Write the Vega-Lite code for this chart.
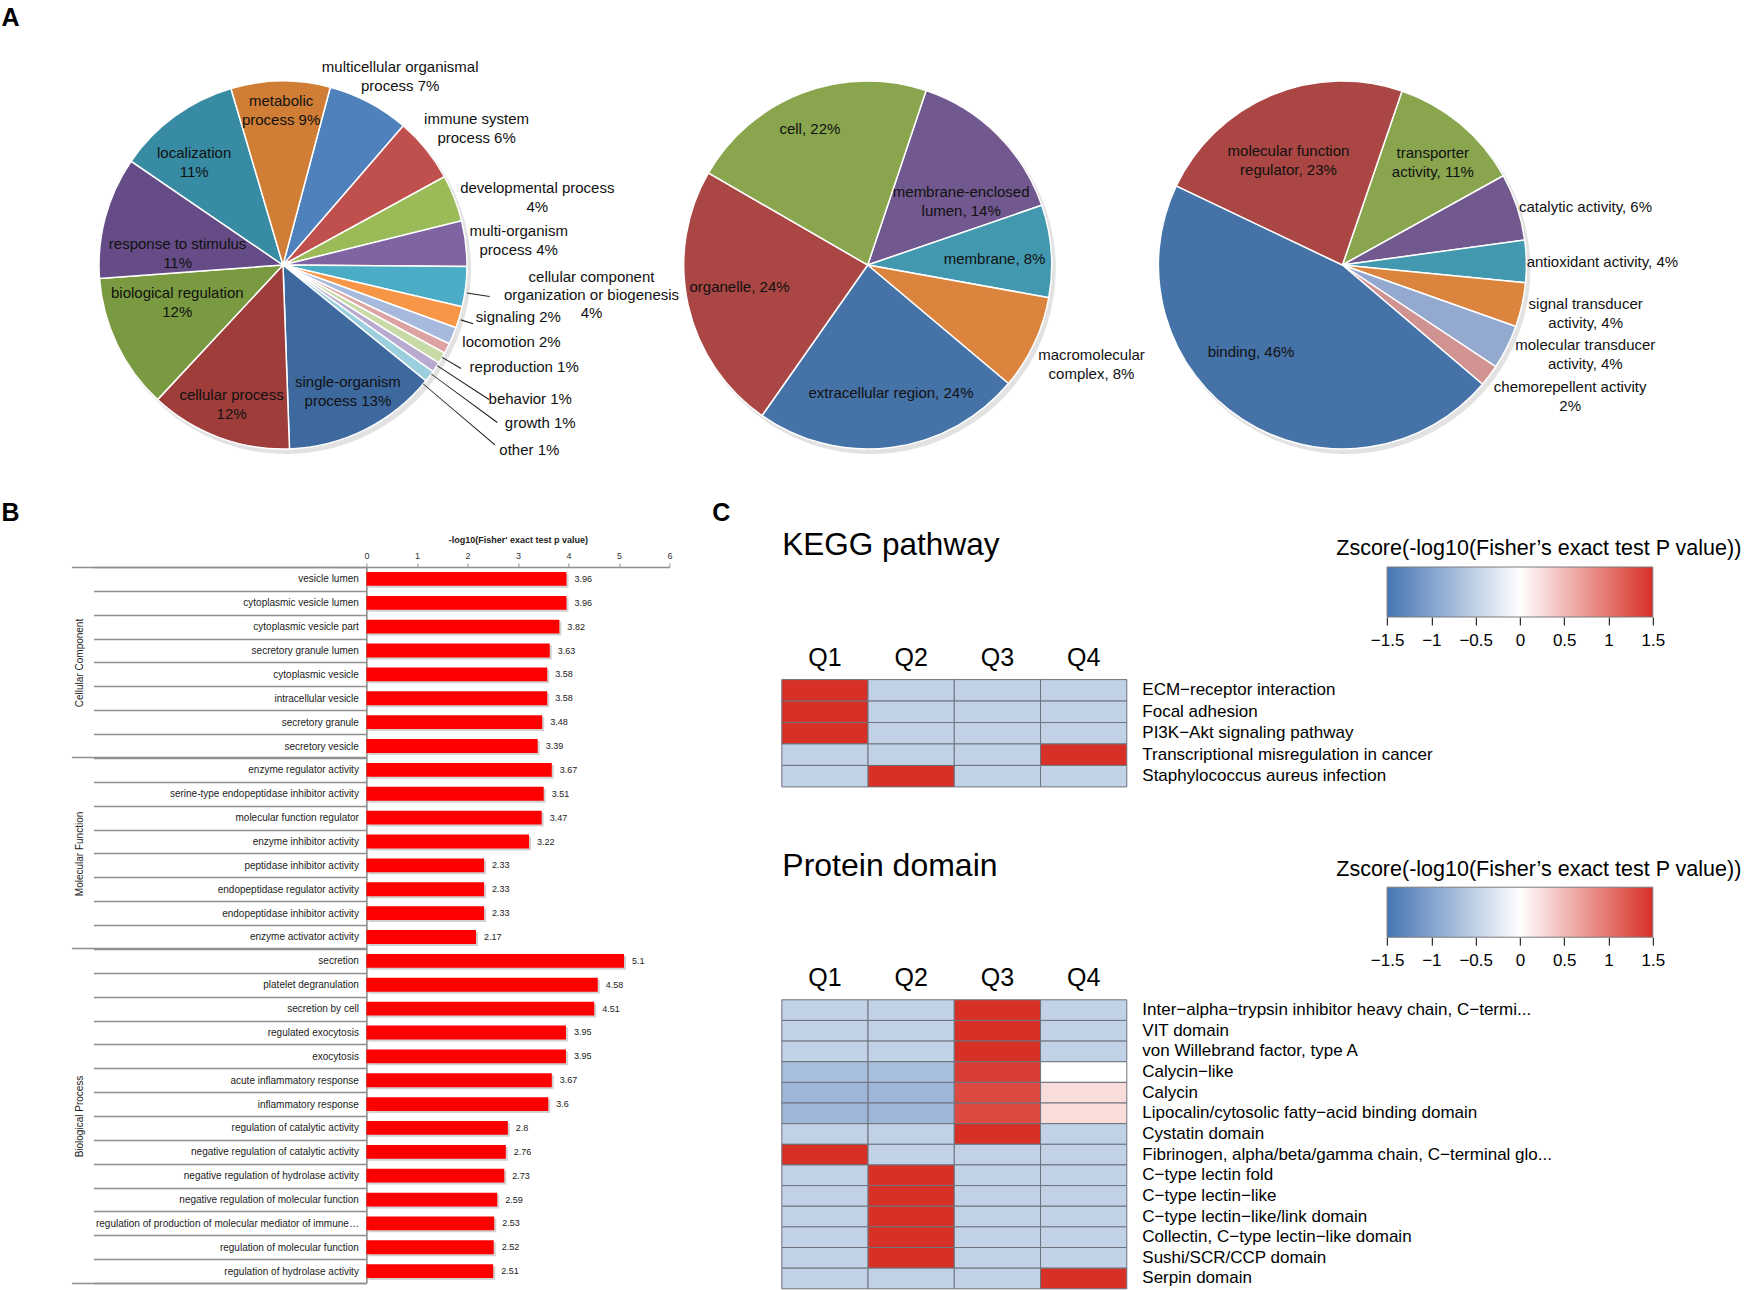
{
"$schema": "https://vega.github.io/schema/vega-lite/v6.json",
"padding": {"left": 1, "top": 5, "right": 0, "bottom": 0},
"background": "white",
"config": {"view": {"stroke": null}, "font": "Liberation Sans", "axis": {"grid": false}},
"datasets": {
"bp": [
{"ord":1,"name":"multicellular organismal process","value":7.2,"label":"multicellular organismal\nprocess 7%"},
{"ord":2,"name":"immune system process","value":5.7,"label":"immune system\nprocess 6%"},
{"ord":3,"name":"developmental process","value":4.1,"label":"developmental process\n4%"},
{"ord":4,"name":"multi-organism process","value":4.0,"label":"multi-organism\nprocess 4%"},
{"ord":5,"name":"cellular component organization or biogenesis","value":3.5,"label":"cellular component\norganization or biogenesis\n4%"},
{"ord":6,"name":"signaling","value":1.9,"label":"signaling 2%"},
{"ord":7,"name":"locomotion","value":1.5,"label":"locomotion 2%"},
{"ord":8,"name":"reproduction","value":0.9,"label":"reproduction 1%"},
{"ord":9,"name":"behavior","value":1.0,"label":"behavior 1%"},
{"ord":10,"name":"growth","value":0.9,"label":"growth 1%"},
{"ord":11,"name":"other","value":1.0,"label":"other 1%"},
{"ord":12,"name":"single-organism process","value":13.6,"label":"single-organism\nprocess 13%"},
{"ord":13,"name":"cellular process","value":12.5,"label":"cellular process\n12%"},
{"ord":14,"name":"biological regulation","value":11.9,"label":"biological regulation\n12%"},
{"ord":15,"name":"response to stimulus","value":10.7,"label":"response to stimulus\n11%"},
{"ord":16,"name":"localization","value":10.9,"label":"localization\n11%"},
{"ord":17,"name":"metabolic process","value":8.7,"label":"metabolic\nprocess 9%"}
],
"cc": [
{"ord":1,"name":"membrane-enclosed lumen","value":14.6,"label":"membrane-enclosed\nlumen, 14%"},
{"ord":2,"name":"membrane","value":8.1,"label":"membrane, 8%"},
{"ord":3,"name":"macromolecular complex","value":8.3,"label":"macromolecular\ncomplex, 8%"},
{"ord":4,"name":"extracellular region","value":23.6,"label":"extracellular region, 24%"},
{"ord":5,"name":"organelle","value":23.6,"label":"organelle, 24%"},
{"ord":6,"name":"cell","value":21.8,"label":"cell, 22%"}
],
"mf": [
{"ord":1,"name":"transporter activity","value":11.7,"label":"transporter\nactivity, 11%"},
{"ord":2,"name":"catalytic activity","value":5.9,"label":"catalytic activity, 6%"},
{"ord":3,"name":"antioxidant activity","value":3.7,"label":"antioxidant activity, 4%"},
{"ord":4,"name":"signal transducer activity","value":3.9,"label":"signal transducer\nactivity, 4%"},
{"ord":5,"name":"molecular transducer activity","value":3.9,"label":"molecular transducer\nactivity, 4%"},
{"ord":6,"name":"chemorepellent activity","value":1.9,"label":"chemorepellent activity\n2%"},
{"ord":7,"name":"binding","value":45.9,"label":"binding, 46%"},
{"ord":8,"name":"molecular function regulator","value":23.2,"label":"molecular function\nregulator, 23%"}
],
"bars": [
{"group":"CC","term":"vesicle lumen","value":3.96},
{"group":"CC","term":"cytoplasmic vesicle lumen","value":3.96},
{"group":"CC","term":"cytoplasmic vesicle part","value":3.82},
{"group":"CC","term":"secretory granule lumen","value":3.63},
{"group":"CC","term":"cytoplasmic vesicle","value":3.58},
{"group":"CC","term":"intracellular vesicle","value":3.58},
{"group":"CC","term":"secretory granule","value":3.48},
{"group":"CC","term":"secretory vesicle","value":3.39},
{"group":"MF","term":"enzyme regulator activity","value":3.67},
{"group":"MF","term":"serine-type endopeptidase inhibitor activity","value":3.51},
{"group":"MF","term":"molecular function regulator","value":3.47},
{"group":"MF","term":"enzyme inhibitor activity","value":3.22},
{"group":"MF","term":"peptidase inhibitor activity","value":2.33},
{"group":"MF","term":"endopeptidase regulator activity","value":2.33},
{"group":"MF","term":"endopeptidase inhibitor activity","value":2.33},
{"group":"MF","term":"enzyme activator activity","value":2.17},
{"group":"BP","term":"secretion","value":5.1},
{"group":"BP","term":"platelet degranulation","value":4.58},
{"group":"BP","term":"secretion by cell","value":4.51},
{"group":"BP","term":"regulated exocytosis","value":3.95},
{"group":"BP","term":"exocytosis","value":3.95},
{"group":"BP","term":"acute inflammatory response","value":3.67},
{"group":"BP","term":"inflammatory response","value":3.6},
{"group":"BP","term":"regulation of catalytic activity","value":2.8},
{"group":"BP","term":"negative regulation of catalytic activity","value":2.76},
{"group":"BP","term":"negative regulation of hydrolase activity","value":2.73},
{"group":"BP","term":"negative regulation of molecular function","value":2.59},
{"group":"BP","term":"regulation of production of molecular mediator of immune…","value":2.53},
{"group":"BP","term":"regulation of molecular function","value":2.52},
{"group":"BP","term":"regulation of hydrolase activity","value":2.51}
],
"kegg": [
{"term":"ECM−receptor interaction","q":"Q1","z":1.5},{"term":"ECM−receptor interaction","q":"Q2","z":-0.5},{"term":"ECM−receptor interaction","q":"Q3","z":-0.5},{"term":"ECM−receptor interaction","q":"Q4","z":-0.5},
{"term":"Focal adhesion","q":"Q1","z":1.5},{"term":"Focal adhesion","q":"Q2","z":-0.5},{"term":"Focal adhesion","q":"Q3","z":-0.5},{"term":"Focal adhesion","q":"Q4","z":-0.5},
{"term":"PI3K−Akt signaling pathway","q":"Q1","z":1.5},{"term":"PI3K−Akt signaling pathway","q":"Q2","z":-0.5},{"term":"PI3K−Akt signaling pathway","q":"Q3","z":-0.5},{"term":"PI3K−Akt signaling pathway","q":"Q4","z":-0.5},
{"term":"Transcriptional misregulation in cancer","q":"Q1","z":-0.5},{"term":"Transcriptional misregulation in cancer","q":"Q2","z":-0.5},{"term":"Transcriptional misregulation in cancer","q":"Q3","z":-0.5},{"term":"Transcriptional misregulation in cancer","q":"Q4","z":1.5},
{"term":"Staphylococcus aureus infection","q":"Q1","z":-0.5},{"term":"Staphylococcus aureus infection","q":"Q2","z":1.5},{"term":"Staphylococcus aureus infection","q":"Q3","z":-0.5},{"term":"Staphylococcus aureus infection","q":"Q4","z":-0.5}
],
"domain": [
{"term":"Inter−alpha−trypsin inhibitor heavy chain, C−termi...","q":"Q1","z":-0.5},{"term":"Inter−alpha−trypsin inhibitor heavy chain, C−termi...","q":"Q2","z":-0.5},{"term":"Inter−alpha−trypsin inhibitor heavy chain, C−termi...","q":"Q3","z":1.5},{"term":"Inter−alpha−trypsin inhibitor heavy chain, C−termi...","q":"Q4","z":-0.5},
{"term":"VIT domain","q":"Q1","z":-0.5},{"term":"VIT domain","q":"Q2","z":-0.5},{"term":"VIT domain","q":"Q3","z":1.5},{"term":"VIT domain","q":"Q4","z":-0.5},
{"term":"von Willebrand factor, type A","q":"Q1","z":-0.5},{"term":"von Willebrand factor, type A","q":"Q2","z":-0.5},{"term":"von Willebrand factor, type A","q":"Q3","z":1.5},{"term":"von Willebrand factor, type A","q":"Q4","z":-0.5},
{"term":"Calycin−like","q":"Q1","z":-0.71},{"term":"Calycin−like","q":"Q2","z":-0.71},{"term":"Calycin−like","q":"Q3","z":1.41},{"term":"Calycin−like","q":"Q4","z":0.0},
{"term":"Calycin","q":"Q1","z":-0.78},{"term":"Calycin","q":"Q2","z":-0.78},{"term":"Calycin","q":"Q3","z":1.31},{"term":"Calycin","q":"Q4","z":0.25},
{"term":"Lipocalin/cytosolic fatty−acid binding domain","q":"Q1","z":-0.78},{"term":"Lipocalin/cytosolic fatty−acid binding domain","q":"Q2","z":-0.78},{"term":"Lipocalin/cytosolic fatty−acid binding domain","q":"Q3","z":1.31},{"term":"Lipocalin/cytosolic fatty−acid binding domain","q":"Q4","z":0.25},
{"term":"Cystatin domain","q":"Q1","z":-0.5},{"term":"Cystatin domain","q":"Q2","z":-0.5},{"term":"Cystatin domain","q":"Q3","z":1.5},{"term":"Cystatin domain","q":"Q4","z":-0.5},
{"term":"Fibrinogen, alpha/beta/gamma chain, C−terminal glo...","q":"Q1","z":1.5},{"term":"Fibrinogen, alpha/beta/gamma chain, C−terminal glo...","q":"Q2","z":-0.5},{"term":"Fibrinogen, alpha/beta/gamma chain, C−terminal glo...","q":"Q3","z":-0.5},{"term":"Fibrinogen, alpha/beta/gamma chain, C−terminal glo...","q":"Q4","z":-0.5},
{"term":"C−type lectin fold","q":"Q1","z":-0.5},{"term":"C−type lectin fold","q":"Q2","z":1.5},{"term":"C−type lectin fold","q":"Q3","z":-0.5},{"term":"C−type lectin fold","q":"Q4","z":-0.5},
{"term":"C−type lectin−like","q":"Q1","z":-0.5},{"term":"C−type lectin−like","q":"Q2","z":1.5},{"term":"C−type lectin−like","q":"Q3","z":-0.5},{"term":"C−type lectin−like","q":"Q4","z":-0.5},
{"term":"C−type lectin−like/link domain","q":"Q1","z":-0.5},{"term":"C−type lectin−like/link domain","q":"Q2","z":1.5},{"term":"C−type lectin−like/link domain","q":"Q3","z":-0.5},{"term":"C−type lectin−like/link domain","q":"Q4","z":-0.5},
{"term":"Collectin, C−type lectin−like domain","q":"Q1","z":-0.5},{"term":"Collectin, C−type lectin−like domain","q":"Q2","z":1.5},{"term":"Collectin, C−type lectin−like domain","q":"Q3","z":-0.5},{"term":"Collectin, C−type lectin−like domain","q":"Q4","z":-0.5},
{"term":"Sushi/SCR/CCP domain","q":"Q1","z":-0.5},{"term":"Sushi/SCR/CCP domain","q":"Q2","z":1.5},{"term":"Sushi/SCR/CCP domain","q":"Q3","z":-0.5},{"term":"Sushi/SCR/CCP domain","q":"Q4","z":-0.5},
{"term":"Serpin domain","q":"Q1","z":-0.5},{"term":"Serpin domain","q":"Q2","z":-0.5},{"term":"Serpin domain","q":"Q3","z":-0.5},{"term":"Serpin domain","q":"Q4","z":1.5}
]
},
"bounds": "full",
"spacing": 0,
"vconcat": [
{"hconcat": [
 {"data": {"name": "bp"}, "width": 564, "height": 460,
  "layer": [
   {"mark": {"type": "text"}, "encoding": {"y": {"datum": 0, "type": "quantitative", "scale": {"domain": [0, 1]}, "axis": {"orient": "left", "labels": false, "ticks": false, "domain": false, "grid": false, "minExtent": 0, "title": "A", "titleX": 0, "titleY": -10, "titleAngle": 0, "titleAlign": "left", "titleBaseline": "alphabetic", "titleFontSize": 25, "titleFontWeight": "bold", "titleColor": "#000000"}}, "text": {"value": ""}}},
   {"mark": {"type": "arc", "outerRadius": 185, "color": "#e2e2e2", "xOffset": 3, "yOffset": 4}, "encoding": {"theta": {"field": "value", "type": "quantitative", "stack": true, "scale": {"domain": [0, 100], "range": [0.26, 6.5432]}}, "order": {"field": "ord", "type": "quantitative"}}},
   {"mark": {"type": "arc", "outerRadius": 184, "stroke": "#ffffff", "strokeWidth": 1.5},
    "encoding": {"theta": {"field": "value", "type": "quantitative", "stack": true, "scale": {"domain": [0, 100], "range": [0.26, 6.5432]}}, "order": {"field": "ord", "type": "quantitative"},
     "color": {"field": "name", "type": "nominal", "legend": null, "scale": {"domain": ["multicellular organismal process","immune system process","developmental process","multi-organism process","cellular component organization or biogenesis","signaling","locomotion","reproduction","behavior","growth","other","single-organism process","cellular process","biological regulation","response to stimulus","localization","metabolic process"], "range": ["#4f81bd","#c0504d","#9bbb59","#8064a2","#4bacc6","#f79646","#a7b9dc","#dca3a2","#c8daa6","#b8abcf","#9ccfde","#3d699f","#9e3d3a","#7a9a41","#654c86","#378ba3","#d07d35"]}}}},
   {"transform": [{"stack": "value", "groupby": [], "sort": [{"field": "ord", "order": "ascending"}], "as": ["v0", "v1"]}, {"filter": "datum.name === 'cellular component organization or biogenesis'"}], "mark": {"type": "arc", "innerRadius": 186, "outerRadius": 209, "thetaOffset": 0.1396, "theta2Offset": 0.1456, "color": "#222222"}, "encoding": {"theta": {"field": "v0", "type": "quantitative", "stack": null, "scale": {"domain": [0, 100], "range": [0.26, 6.5432]}}, "theta2": {"field": "v0"}}},
   {"transform": [{"stack": "value", "groupby": [], "sort": [{"field": "ord", "order": "ascending"}], "as": ["v0", "v1"]}, {"filter": "datum.name === 'signaling'"}], "mark": {"type": "arc", "innerRadius": 186, "outerRadius": 199, "thetaOffset": 0.068, "theta2Offset": 0.074, "color": "#222222"}, "encoding": {"theta": {"field": "v0", "type": "quantitative", "stack": null, "scale": {"domain": [0, 100], "range": [0.26, 6.5432]}}, "theta2": {"field": "v0"}}},
   {"transform": [{"stack": "value", "groupby": [], "sort": [{"field": "ord", "order": "ascending"}], "as": ["v0", "v1"]}, {"filter": "datum.name === 'reproduction'"}], "mark": {"type": "arc", "innerRadius": 184, "outerRadius": 206, "thetaOffset": 0.0813, "theta2Offset": 0.0868, "color": "#222222"}, "encoding": {"theta": {"field": "v0", "type": "quantitative", "stack": null, "scale": {"domain": [0, 100], "range": [0.26, 6.5432]}}, "theta2": {"field": "v0"}}},
   {"transform": [{"stack": "value", "groupby": [], "sort": [{"field": "ord", "order": "ascending"}], "as": ["v0", "v1"]}, {"filter": "datum.name === 'behavior'"}], "mark": {"type": "arc", "innerRadius": 184, "outerRadius": 246, "thetaOffset": 0.0771, "theta2Offset": 0.0821, "color": "#222222"}, "encoding": {"theta": {"field": "v0", "type": "quantitative", "stack": null, "scale": {"domain": [0, 100], "range": [0.26, 6.5432]}}, "theta2": {"field": "v0"}}},
   {"transform": [{"stack": "value", "groupby": [], "sort": [{"field": "ord", "order": "ascending"}], "as": ["v0", "v1"]}, {"filter": "datum.name === 'growth'"}], "mark": {"type": "arc", "innerRadius": 184, "outerRadius": 266, "thetaOffset": 0.0702, "theta2Offset": 0.0747, "color": "#222222"}, "encoding": {"theta": {"field": "v0", "type": "quantitative", "stack": null, "scale": {"domain": [0, 100], "range": [0.26, 6.5432]}}, "theta2": {"field": "v0"}}},
   {"transform": [{"stack": "value", "groupby": [], "sort": [{"field": "ord", "order": "ascending"}], "as": ["v0", "v1"]}, {"filter": "datum.name === 'other'"}], "mark": {"type": "arc", "innerRadius": 184, "outerRadius": 278, "thetaOffset": 0.0834, "theta2Offset": 0.0878, "color": "#222222"}, "encoding": {"theta": {"field": "v0", "type": "quantitative", "stack": null, "scale": {"domain": [0, 100], "range": [0.26, 6.5432]}}, "theta2": {"field": "v0"}}},
   {"transform": [{"stack": "value", "groupby": [], "sort": [{"field": "ord", "order": "ascending"}], "as": ["v0", "v1"]}, {"filter": "datum.name === 'multicellular organismal process'"}], "mark": {"type": "text", "radius": 222, "thetaOffset": 0.296, "dy": -9.5, "fontSize": 15, "lineBreak": "\n", "lineHeight": 19, "align": "center", "baseline": "middle", "color": "#111111"}, "encoding": {"theta": {"field": "v0", "type": "quantitative", "scale": {"domain": [0, 100], "range": [0.26, 6.5432]}}, "text": {"field": "label"}}},
   {"transform": [{"stack": "value", "groupby": [], "sort": [{"field": "ord", "order": "ascending"}], "as": ["v0", "v1"]}, {"filter": "datum.name === 'immune system process'"}], "mark": {"type": "text", "radius": 237, "thetaOffset": 0.2436, "dy": -9.5, "fontSize": 15, "lineBreak": "\n", "lineHeight": 19, "align": "center", "baseline": "middle", "color": "#111111"}, "encoding": {"theta": {"field": "v0", "type": "quantitative", "scale": {"domain": [0, 100], "range": [0.26, 6.5432]}}, "text": {"field": "label"}}},
   {"transform": [{"stack": "value", "groupby": [], "sort": [{"field": "ord", "order": "ascending"}], "as": ["v0", "v1"]}, {"filter": "datum.name === 'developmental process'"}], "mark": {"type": "text", "radius": 263, "thetaOffset": 0.2423, "dy": -9.5, "fontSize": 15, "lineBreak": "\n", "lineHeight": 19, "align": "center", "baseline": "middle", "color": "#111111"}, "encoding": {"theta": {"field": "v0", "type": "quantitative", "scale": {"domain": [0, 100], "range": [0.26, 6.5432]}}, "text": {"field": "label"}}},
   {"transform": [{"stack": "value", "groupby": [], "sort": [{"field": "ord", "order": "ascending"}], "as": ["v0", "v1"]}, {"filter": "datum.name === 'multi-organism process'"}], "mark": {"type": "text", "radius": 237, "thetaOffset": 0.1379, "dy": -9.5, "fontSize": 15, "lineBreak": "\n", "lineHeight": 19, "align": "center", "baseline": "middle", "color": "#111111"}, "encoding": {"theta": {"field": "v0", "type": "quantitative", "scale": {"domain": [0, 100], "range": [0.26, 6.5432]}}, "text": {"field": "label"}}},
   {"transform": [{"stack": "value", "groupby": [], "sort": [{"field": "ord", "order": "ascending"}], "as": ["v0", "v1"]}, {"filter": "datum.name === 'cellular component organization or biogenesis'"}], "mark": {"type": "text", "radius": 310, "thetaOffset": 0.089, "dy": -18, "fontSize": 15, "lineBreak": "\n", "lineHeight": 18, "align": "center", "baseline": "middle", "color": "#111111"}, "encoding": {"theta": {"field": "v0", "type": "quantitative", "scale": {"domain": [0, 100], "range": [0.26, 6.5432]}}, "text": {"field": "label"}}},
   {"transform": [{"stack": "value", "groupby": [], "sort": [{"field": "ord", "order": "ascending"}], "as": ["v0", "v1"]}, {"filter": "datum.name === 'signaling'"}], "mark": {"type": "text", "radius": 241, "thetaOffset": -0.0119, "fontSize": 15, "lineBreak": "\n", "lineHeight": 19, "align": "center", "baseline": "middle", "color": "#111111"}, "encoding": {"theta": {"field": "v0", "type": "quantitative", "scale": {"domain": [0, 100], "range": [0.26, 6.5432]}}, "text": {"field": "label"}}},
   {"transform": [{"stack": "value", "groupby": [], "sort": [{"field": "ord", "order": "ascending"}], "as": ["v0", "v1"]}, {"filter": "datum.name === 'locomotion'"}], "mark": {"type": "text", "radius": 241, "thetaOffset": -0.0244, "fontSize": 15, "lineBreak": "\n", "lineHeight": 19, "align": "center", "baseline": "middle", "color": "#111111"}, "encoding": {"theta": {"field": "v0", "type": "quantitative", "scale": {"domain": [0, 100], "range": [0.26, 6.5432]}}, "text": {"field": "label"}}},
   {"transform": [{"stack": "value", "groupby": [], "sort": [{"field": "ord", "order": "ascending"}], "as": ["v0", "v1"]}, {"filter": "datum.name === 'reproduction'"}], "mark": {"type": "text", "radius": 262, "thetaOffset": -0.0408, "fontSize": 15, "lineBreak": "\n", "lineHeight": 19, "align": "center", "baseline": "middle", "color": "#111111"}, "encoding": {"theta": {"field": "v0", "type": "quantitative", "scale": {"domain": [0, 100], "range": [0.26, 6.5432]}}, "text": {"field": "label"}}},
   {"transform": [{"stack": "value", "groupby": [], "sort": [{"field": "ord", "order": "ascending"}], "as": ["v0", "v1"]}, {"filter": "datum.name === 'behavior'"}], "mark": {"type": "text", "radius": 281, "thetaOffset": -0.0035, "fontSize": 15, "lineBreak": "\n", "lineHeight": 19, "align": "center", "baseline": "middle", "color": "#111111"}, "encoding": {"theta": {"field": "v0", "type": "quantitative", "scale": {"domain": [0, 100], "range": [0.26, 6.5432]}}, "text": {"field": "label"}}},
   {"transform": [{"stack": "value", "groupby": [], "sort": [{"field": "ord", "order": "ascending"}], "as": ["v0", "v1"]}, {"filter": "datum.name === 'growth'"}], "mark": {"type": "text", "radius": 302, "thetaOffset": -0.0101, "fontSize": 15, "lineBreak": "\n", "lineHeight": 19, "align": "center", "baseline": "middle", "color": "#111111"}, "encoding": {"theta": {"field": "v0", "type": "quantitative", "scale": {"domain": [0, 100], "range": [0.26, 6.5432]}}, "text": {"field": "label"}}},
   {"transform": [{"stack": "value", "groupby": [], "sort": [{"field": "ord", "order": "ascending"}], "as": ["v0", "v1"]}, {"filter": "datum.name === 'other'"}], "mark": {"type": "text", "radius": 308, "thetaOffset": 0.0258, "fontSize": 15, "lineBreak": "\n", "lineHeight": 19, "align": "center", "baseline": "middle", "color": "#111111"}, "encoding": {"theta": {"field": "v0", "type": "quantitative", "scale": {"domain": [0, 100], "range": [0.26, 6.5432]}}, "text": {"field": "label"}}},
   {"transform": [{"stack": "value", "groupby": [], "sort": [{"field": "ord", "order": "ascending"}], "as": ["v0", "v1"]}, {"filter": "datum.name === 'single-organism process'"}], "mark": {"type": "text", "radius": 142, "thetaOffset": 0.415, "dy": -9.5, "fontSize": 15, "lineBreak": "\n", "lineHeight": 19, "align": "center", "baseline": "middle", "color": "#111111"}, "encoding": {"theta": {"field": "v0", "type": "quantitative", "scale": {"domain": [0, 100], "range": [0.26, 6.5432]}}, "text": {"field": "label"}}},
   {"transform": [{"stack": "value", "groupby": [], "sort": [{"field": "ord", "order": "ascending"}], "as": ["v0", "v1"]}, {"filter": "datum.name === 'cellular process'"}], "mark": {"type": "text", "radius": 149, "thetaOffset": 0.3878, "dy": -9.5, "fontSize": 15, "lineBreak": "\n", "lineHeight": 19, "align": "center", "baseline": "middle", "color": "#111111"}, "encoding": {"theta": {"field": "v0", "type": "quantitative", "scale": {"domain": [0, 100], "range": [0.26, 6.5432]}}, "text": {"field": "label"}}},
   {"transform": [{"stack": "value", "groupby": [], "sort": [{"field": "ord", "order": "ascending"}], "as": ["v0", "v1"]}, {"filter": "datum.name === 'biological regulation'"}], "mark": {"type": "text", "radius": 112, "thetaOffset": 0.4838, "dy": -9.5, "fontSize": 15, "lineBreak": "\n", "lineHeight": 19, "align": "center", "baseline": "middle", "color": "#111111"}, "encoding": {"theta": {"field": "v0", "type": "quantitative", "scale": {"domain": [0, 100], "range": [0.26, 6.5432]}}, "text": {"field": "label"}}},
   {"transform": [{"stack": "value", "groupby": [], "sort": [{"field": "ord", "order": "ascending"}], "as": ["v0", "v1"]}, {"filter": "datum.name === 'response to stimulus'"}], "mark": {"type": "text", "radius": 106, "thetaOffset": 0.1777, "dy": -9.5, "fontSize": 15, "lineBreak": "\n", "lineHeight": 19, "align": "center", "baseline": "middle", "color": "#111111"}, "encoding": {"theta": {"field": "v0", "type": "quantitative", "scale": {"domain": [0, 100], "range": [0.26, 6.5432]}}, "text": {"field": "label"}}},
   {"transform": [{"stack": "value", "groupby": [], "sort": [{"field": "ord", "order": "ascending"}], "as": ["v0", "v1"]}, {"filter": "datum.name === 'localization'"}], "mark": {"type": "text", "radius": 136, "thetaOffset": 0.2594, "dy": -9.5, "fontSize": 15, "lineBreak": "\n", "lineHeight": 19, "align": "center", "baseline": "middle", "color": "#111111"}, "encoding": {"theta": {"field": "v0", "type": "quantitative", "scale": {"domain": [0, 100], "range": [0.26, 6.5432]}}, "text": {"field": "label"}}},
   {"transform": [{"stack": "value", "groupby": [], "sort": [{"field": "ord", "order": "ascending"}], "as": ["v0", "v1"]}, {"filter": "datum.name === 'metabolic process'"}], "mark": {"type": "text", "radius": 155, "thetaOffset": 0.2744, "dy": -9.5, "fontSize": 15, "lineBreak": "\n", "lineHeight": 19, "align": "center", "baseline": "middle", "color": "#111111"}, "encoding": {"theta": {"field": "v0", "type": "quantitative", "scale": {"domain": [0, 100], "range": [0.26, 6.5432]}}, "text": {"field": "label"}}}
  ]},
 {"data": {"name": "cc"}, "width": 605.4, "height": 460,
  "layer": [
   {"mark": {"type": "arc", "outerRadius": 185, "color": "#e2e2e2", "xOffset": 3, "yOffset": 4}, "encoding": {"theta": {"field": "value", "type": "quantitative", "stack": true, "scale": {"domain": [0, 100], "range": [0.323, 6.6062]}}, "order": {"field": "ord", "type": "quantitative"}}},
   {"mark": {"type": "arc", "outerRadius": 184, "stroke": "#ffffff", "strokeWidth": 1.5},
    "encoding": {"theta": {"field": "value", "type": "quantitative", "stack": true, "scale": {"domain": [0, 100], "range": [0.323, 6.6062]}}, "order": {"field": "ord", "type": "quantitative"},
     "color": {"field": "name", "type": "nominal", "legend": null, "scale": {"domain": ["membrane-enclosed lumen","membrane","macromolecular complex","extracellular region","organelle","cell"], "range": ["#71588f","#4198af","#db843d","#4572a7","#aa4643","#89a54e"]}}}},
   {"transform": [{"stack": "value", "groupby": [], "sort": [{"field": "ord", "order": "ascending"}], "as": ["v0", "v1"]}, {"filter": "datum.name === 'membrane-enclosed lumen'"}], "mark": {"type": "text", "radius": 113, "thetaOffset": 0.651, "dy": -9.5, "fontSize": 15, "lineBreak": "\n", "lineHeight": 19, "align": "center", "baseline": "middle", "color": "#111111"}, "encoding": {"theta": {"field": "v0", "type": "quantitative", "scale": {"domain": [0, 100], "range": [0.323, 6.6062]}}, "text": {"field": "label"}}},
   {"transform": [{"stack": "value", "groupby": [], "sort": [{"field": "ord", "order": "ascending"}], "as": ["v0", "v1"]}, {"filter": "datum.name === 'membrane'"}], "mark": {"type": "text", "radius": 127, "thetaOffset": 0.2852, "fontSize": 15, "lineBreak": "\n", "lineHeight": 19, "align": "center", "baseline": "middle", "color": "#111111"}, "encoding": {"theta": {"field": "v0", "type": "quantitative", "scale": {"domain": [0, 100], "range": [0.323, 6.6062]}}, "text": {"field": "label"}}},
   {"transform": [{"stack": "value", "groupby": [], "sort": [{"field": "ord", "order": "ascending"}], "as": ["v0", "v1"]}, {"filter": "datum.name === 'macromolecular complex'"}], "mark": {"type": "text", "radius": 245, "thetaOffset": 0.2405, "dy": -9.5, "fontSize": 15, "lineBreak": "\n", "lineHeight": 19, "align": "center", "baseline": "middle", "color": "#111111"}, "encoding": {"theta": {"field": "v0", "type": "quantitative", "scale": {"domain": [0, 100], "range": [0.323, 6.6062]}}, "text": {"field": "label"}}},
   {"transform": [{"stack": "value", "groupby": [], "sort": [{"field": "ord", "order": "ascending"}], "as": ["v0", "v1"]}, {"filter": "datum.name === 'extracellular region'"}], "mark": {"type": "text", "radius": 130, "thetaOffset": 0.6912, "fontSize": 15, "lineBreak": "\n", "lineHeight": 19, "align": "center", "baseline": "middle", "color": "#111111"}, "encoding": {"theta": {"field": "v0", "type": "quantitative", "scale": {"domain": [0, 100], "range": [0.323, 6.6062]}}, "text": {"field": "label"}}},
   {"transform": [{"stack": "value", "groupby": [], "sort": [{"field": "ord", "order": "ascending"}], "as": ["v0", "v1"]}, {"filter": "datum.name === 'organelle'"}], "mark": {"type": "text", "radius": 130, "thetaOffset": 0.7913, "fontSize": 15, "lineBreak": "\n", "lineHeight": 19, "align": "center", "baseline": "middle", "color": "#111111"}, "encoding": {"theta": {"field": "v0", "type": "quantitative", "scale": {"domain": [0, 100], "range": [0.323, 6.6062]}}, "text": {"field": "label"}}},
   {"transform": [{"stack": "value", "groupby": [], "sort": [{"field": "ord", "order": "ascending"}], "as": ["v0", "v1"]}, {"filter": "datum.name === 'cell'"}], "mark": {"type": "text", "radius": 148, "thetaOffset": 0.6454, "fontSize": 15, "lineBreak": "\n", "lineHeight": 19, "align": "center", "baseline": "middle", "color": "#111111"}, "encoding": {"theta": {"field": "v0", "type": "quantitative", "scale": {"domain": [0, 100], "range": [0.323, 6.6062]}}, "text": {"field": "label"}}}
  ]},
 {"data": {"name": "mf"}, "width": 342.8, "height": 460,
  "layer": [
   {"mark": {"type": "arc", "outerRadius": 185, "color": "#e2e2e2", "xOffset": 3, "yOffset": 4}, "encoding": {"theta": {"field": "value", "type": "quantitative", "stack": true, "scale": {"domain": [0, 100.1], "range": [0.33, 6.6132]}}, "order": {"field": "ord", "type": "quantitative"}}},
   {"mark": {"type": "arc", "outerRadius": 184, "stroke": "#ffffff", "strokeWidth": 1.5},
    "encoding": {"theta": {"field": "value", "type": "quantitative", "stack": true, "scale": {"domain": [0, 100.1], "range": [0.33, 6.6132]}}, "order": {"field": "ord", "type": "quantitative"},
     "color": {"field": "name", "type": "nominal", "legend": null, "scale": {"domain": ["transporter activity","catalytic activity","antioxidant activity","signal transducer activity","molecular transducer activity","chemorepellent activity","binding","molecular function regulator"], "range": ["#89a54e","#71588f","#4198af","#db843d","#93a9cf","#d19392","#4572a7","#aa4643"]}}}},
   {"transform": [{"stack": "value", "groupby": [], "sort": [{"field": "ord", "order": "ascending"}], "as": ["v0", "v1"]}, {"filter": "datum.name === 'transporter activity'"}], "mark": {"type": "text", "radius": 137, "thetaOffset": 0.391, "dy": -9.5, "fontSize": 15, "lineBreak": "\n", "lineHeight": 19, "align": "center", "baseline": "middle", "color": "#111111"}, "encoding": {"theta": {"field": "v0", "type": "quantitative", "scale": {"domain": [0, 100.1], "range": [0.33, 6.6132]}}, "text": {"field": "label"}}},
   {"transform": [{"stack": "value", "groupby": [], "sort": [{"field": "ord", "order": "ascending"}], "as": ["v0", "v1"]}, {"filter": "datum.name === 'catalytic activity'"}], "mark": {"type": "text", "radius": 250, "thetaOffset": 0.2709, "fontSize": 15, "lineBreak": "\n", "lineHeight": 19, "align": "center", "baseline": "middle", "color": "#111111"}, "encoding": {"theta": {"field": "v0", "type": "quantitative", "scale": {"domain": [0, 100.1], "range": [0.33, 6.6132]}}, "text": {"field": "label"}}},
   {"transform": [{"stack": "value", "groupby": [], "sort": [{"field": "ord", "order": "ascending"}], "as": ["v0", "v1"]}, {"filter": "datum.name === 'antioxidant activity'"}], "mark": {"type": "text", "radius": 260, "thetaOffset": 0.1239, "fontSize": 15, "lineBreak": "\n", "lineHeight": 19, "align": "center", "baseline": "middle", "color": "#111111"}, "encoding": {"theta": {"field": "v0", "type": "quantitative", "scale": {"domain": [0, 100.1], "range": [0.33, 6.6132]}}, "text": {"field": "label"}}},
   {"transform": [{"stack": "value", "groupby": [], "sort": [{"field": "ord", "order": "ascending"}], "as": ["v0", "v1"]}, {"filter": "datum.name === 'signal transducer activity'"}], "mark": {"type": "text", "radius": 248, "thetaOffset": 0.0995, "dy": -9.5, "fontSize": 15, "lineBreak": "\n", "lineHeight": 19, "align": "center", "baseline": "middle", "color": "#111111"}, "encoding": {"theta": {"field": "v0", "type": "quantitative", "scale": {"domain": [0, 100.1], "range": [0.33, 6.6132]}}, "text": {"field": "label"}}},
   {"transform": [{"stack": "value", "groupby": [], "sort": [{"field": "ord", "order": "ascending"}], "as": ["v0", "v1"]}, {"filter": "datum.name === 'molecular transducer activity'"}], "mark": {"type": "text", "radius": 259, "thetaOffset": 0.0134, "dy": -9.5, "fontSize": 15, "lineBreak": "\n", "lineHeight": 19, "align": "center", "baseline": "middle", "color": "#111111"}, "encoding": {"theta": {"field": "v0", "type": "quantitative", "scale": {"domain": [0, 100.1], "range": [0.33, 6.6132]}}, "text": {"field": "label"}}},
   {"transform": [{"stack": "value", "groupby": [], "sort": [{"field": "ord", "order": "ascending"}], "as": ["v0", "v1"]}, {"filter": "datum.name === 'chemorepellent activity'"}], "mark": {"type": "text", "radius": 263, "thetaOffset": -0.0621, "dy": -9.5, "fontSize": 15, "lineBreak": "\n", "lineHeight": 19, "align": "center", "baseline": "middle", "color": "#111111"}, "encoding": {"theta": {"field": "v0", "type": "quantitative", "scale": {"domain": [0, 100.1], "range": [0.33, 6.6132]}}, "text": {"field": "label"}}},
   {"transform": [{"stack": "value", "groupby": [], "sort": [{"field": "ord", "order": "ascending"}], "as": ["v0", "v1"]}, {"filter": "datum.name === 'binding'"}], "mark": {"type": "text", "radius": 126, "thetaOffset": 1.6774, "fontSize": 15, "lineBreak": "\n", "lineHeight": 19, "align": "center", "baseline": "middle", "color": "#111111"}, "encoding": {"theta": {"field": "v0", "type": "quantitative", "scale": {"domain": [0, 100.1], "range": [0.33, 6.6132]}}, "text": {"field": "label"}}},
   {"transform": [{"stack": "value", "groupby": [], "sort": [{"field": "ord", "order": "ascending"}], "as": ["v0", "v1"]}, {"filter": "datum.name === 'molecular function regulator'"}], "mark": {"type": "text", "radius": 118, "thetaOffset": 0.6515, "dy": -9.5, "fontSize": 15, "lineBreak": "\n", "lineHeight": 19, "align": "center", "baseline": "middle", "color": "#111111"}, "encoding": {"theta": {"field": "v0", "type": "quantitative", "scale": {"domain": [0, 100.1], "range": [0.33, 6.6132]}}, "text": {"field": "label"}}}
  ]}
], "spacing": 0, "bounds": "flush", "resolve": {"scale": {"color": "independent"}}},
{"hconcat": [
 {"data": {"values": [{}]}, "width": 29.8, "height": 10,
  "mark": {"type": "text"},
  "encoding": {"y": {"datum": 0, "type": "quantitative", "scale": {"domain": [0, 1]}, "axis": {"orient": "left", "labels": false, "ticks": false, "domain": false, "grid": false, "minExtent": 0, "title": "B", "titleX": 0, "titleY": -46.5, "titleAngle": 0, "titleAlign": "left", "titleBaseline": "alphabetic", "titleFontSize": 25, "titleFontWeight": "bold", "titleColor": "#000000"}}, "text": {"value": ""}}},
 {"data": {"name": "bars"}, "width": 303.1, "height": 716.1,
  "layer": [
   {"mark": {"type": "bar", "color": "#d2d2d2", "height": {"band": 0.58}, "xOffset": 2, "x2Offset": 2, "yOffset": 2, "y2Offset": 2},
    "encoding": {
     "y": {"field": "term", "type": "nominal", "sort": null, "scale": {"paddingInner": 0, "paddingOuter": 0}, "axis": {"orient": "left", "values": ["vesicle lumen", "enzyme regulator activity", "secretion"], "bandPosition": 0, "tickSize": 295, "tickColor": "#8f8f8f", "tickWidth": 1.6, "labels": false, "domain": false, "grid": false, "minExtent": 0, "title": "Molecular Function", "titleX": -287, "titleY": 286.44, "titleAngle": -90, "titleBaseline": "middle", "titleAlign": "center", "titleFontSize": 10, "titleFontWeight": "normal", "titleColor": "#222222"}},
     "x": {"field": "value", "type": "quantitative", "scale": {"domain": [0, 6], "nice": false}, "axis": {"orient": "top", "values": [0,1,2,3,4,5,6], "format": "d", "tickSize": 4, "tickColor": "#8f8f8f", "domainColor": "#8f8f8f", "domainWidth": 1.6, "labelFontSize": 9, "labelPadding": 3, "labelFlush": false, "labelColor": "#333333", "title": "-log10(Fisher' exact test p value)", "titleFontSize": 9, "titleFontWeight": "bold", "titlePadding": 7, "titleColor": "#222222", "grid": false}}}},
   {"mark": {"type": "bar", "color": "#ff0000", "height": {"band": 0.58}},
    "encoding": {
     "y": {"field": "term", "type": "nominal", "sort": null, "axis": {"orient": "left", "tickBand": "extent", "tickSize": 273, "tickColor": "#8f8f8f", "tickWidth": 1.6, "domainColor": "#8f8f8f", "domainWidth": 1.6, "labelPadding": -265, "labelFontSize": 10, "labelColor": "#222222", "labelLimit": 300, "grid": false, "minExtent": 0, "title": "Cellular Component", "titleX": -287, "titleY": 95.48, "titleAngle": -90, "titleBaseline": "middle", "titleAlign": "center", "titleFontSize": 10, "titleFontWeight": "normal", "titleColor": "#222222"}},
     "x": {"field": "value", "type": "quantitative", "axis": null}}},
   {"mark": {"type": "text", "align": "left", "baseline": "middle", "dx": 8, "fontSize": 9, "color": "#222222"},
    "encoding": {
     "y": {"field": "term", "type": "nominal", "sort": null, "axis": {"orient": "left", "values": ["regulation of hydrolase activity"], "bandPosition": 1, "tickSize": 295, "tickColor": "#8f8f8f", "tickWidth": 1.6, "labels": false, "domain": false, "grid": false, "minExtent": 0, "title": "Biological Process", "titleX": -287, "titleY": 549.01, "titleAngle": -90, "titleBaseline": "middle", "titleAlign": "center", "titleFontSize": 10, "titleFontWeight": "normal", "titleColor": "#222222"}},
     "x": {"field": "value", "type": "quantitative", "axis": null},
     "text": {"field": "value", "type": "quantitative"}}}
  ],
  "resolve": {"axis": {"x": "independent", "y": "independent"}}},
 {"spacing": 62.6, "bounds": "flush", "vconcat": [
   {"data": {"values": [{"lo": -1.5, "hi": 1.5}]}, "width": 871, "height": 50,
    "layer": [
     {"mark": {"type": "rect", "stroke": "#7a7a7a", "strokeWidth": 1, "fill": {"gradient": "linear", "x1": 0, "y1": 0, "x2": 1, "y2": 0, "stops": [{"offset": 0, "color": "#4575b4"}, {"offset": 0.5, "color": "#ffffff"}, {"offset": 1, "color": "#d73027"}]}},
      "encoding": {"x": {"field": "lo", "type": "quantitative", "scale": {"domain": [-8.334, 1.5], "nice": false}, "axis": {"orient": "bottom", "values": [-1.5,-1,-0.5,0,0.5,1,1.5], "format": ".2~g", "tickSize": 8, "tickColor": "#000000", "tickWidth": 1, "domain": false, "labelFontSize": 17, "labelPadding": 7, "labelFlush": false, "labelColor": "#000000", "title": null, "grid": false}}, "x2": {"field": "hi"},
       "y": {"datum": 0, "type": "quantitative", "scale": {"domain": [0, 1], "nice": false}, "axis": {"orient": "left", "labels": false, "ticks": false, "domain": false, "grid": false, "minExtent": 0, "title": "C", "titleX": -70, "titleY": -46.5, "titleAngle": 0, "titleAlign": "left", "titleBaseline": "alphabetic", "titleFontSize": 25, "titleFontWeight": "bold", "titleColor": "#000000"}}, "y2": {"datum": 1}}},
     {"mark": {"type": "rect", "opacity": 0},
      "encoding": {"x": {"field": "lo", "type": "quantitative", "axis": {"orient": "top", "labels": false, "ticks": false, "domain": false, "grid": false, "minExtent": 0, "title": "Zscore(-log10(Fisher’s exact test P value))", "titleX": 756.5, "titleY": -13, "titleAlign": "center", "titleBaseline": "alphabetic", "titleFontSize": 21.5, "titleFontWeight": "normal", "titleColor": "#000000"}}, "x2": {"field": "hi"},
       "y": {"datum": 0, "type": "quantitative", "axis": {"orient": "left", "labels": false, "ticks": false, "domain": false, "grid": false, "minExtent": 0, "title": "KEGG pathway", "titleX": 0, "titleY": -13, "titleAngle": 0, "titleAlign": "left", "titleBaseline": "alphabetic", "titleFontSize": 31.5, "titleFontWeight": "normal", "titleColor": "#000000"}}, "y2": {"datum": 1}}}
    ],
    "resolve": {"axis": {"x": "independent", "y": "independent"}}},
   {"data": {"name": "kegg"}, "width": 345, "height": 144.1,
    "mark": {"type": "rect", "stroke": "#6e737c", "strokeWidth": 1},
    "encoding": {
     "x": {"field": "q", "type": "nominal", "sort": null, "scale": {"paddingInner": 0, "paddingOuter": 0}, "axis": {"orient": "top", "title": null, "ticks": false, "domain": false, "labelAngle": 0, "labelFontSize": 25, "labelPadding": 9, "labelColor": "#000000"}},
     "y": {"field": "term", "type": "nominal", "sort": null, "scale": {"paddingInner": 0, "paddingOuter": 0.8575, "align": 0}, "axis": {"orient": "right", "title": null, "ticks": false, "domain": false, "labelFontSize": 17, "labelPadding": 15, "labelLimit": 700, "labelColor": "#000000"}},
     "fill": {"field": "z", "type": "quantitative", "scale": {"domain": [-1.5, 0, 1.5], "range": ["#4575b4", "#ffffff", "#d73027"], "interpolate": "rgb"}, "legend": null}}},
   {"data": {"values": [{"lo": -1.5, "hi": 1.5}]}, "width": 871, "height": 50,
    "layer": [
     {"mark": {"type": "rect", "stroke": "#7a7a7a", "strokeWidth": 1, "fill": {"gradient": "linear", "x1": 0, "y1": 0, "x2": 1, "y2": 0, "stops": [{"offset": 0, "color": "#4575b4"}, {"offset": 0.5, "color": "#ffffff"}, {"offset": 1, "color": "#d73027"}]}},
      "encoding": {"x": {"field": "lo", "type": "quantitative", "scale": {"domain": [-8.334, 1.5], "nice": false}, "axis": {"orient": "bottom", "values": [-1.5,-1,-0.5,0,0.5,1,1.5], "format": ".2~g", "tickSize": 8, "tickColor": "#000000", "tickWidth": 1, "domain": false, "labelFontSize": 17, "labelPadding": 7, "labelFlush": false, "labelColor": "#000000", "title": null, "grid": false}}, "x2": {"field": "hi"},
       "y": {"datum": 0, "type": "quantitative", "scale": {"domain": [0, 1], "nice": false}, "axis": null}, "y2": {"datum": 1}}},
     {"mark": {"type": "rect", "opacity": 0},
      "encoding": {"x": {"field": "lo", "type": "quantitative", "axis": {"orient": "top", "labels": false, "ticks": false, "domain": false, "grid": false, "minExtent": 0, "title": "Zscore(-log10(Fisher’s exact test P value))", "titleX": 756.5, "titleY": -12, "titleAlign": "center", "titleBaseline": "alphabetic", "titleFontSize": 21.5, "titleFontWeight": "normal", "titleColor": "#000000"}}, "x2": {"field": "hi"},
       "y": {"datum": 0, "type": "quantitative", "axis": {"orient": "left", "labels": false, "ticks": false, "domain": false, "grid": false, "minExtent": 0, "title": "Protein domain", "titleX": 0, "titleY": -12, "titleAngle": 0, "titleAlign": "left", "titleBaseline": "alphabetic", "titleFontSize": 32, "titleFontWeight": "normal", "titleColor": "#000000"}}, "y2": {"datum": 1}}}
    ],
    "resolve": {"axis": {"x": "independent", "y": "independent"}}},
   {"data": {"name": "domain"}, "width": 345, "height": 289,
    "mark": {"type": "rect", "stroke": "#6e737c", "strokeWidth": 1},
    "encoding": {
     "x": {"field": "q", "type": "nominal", "sort": null, "scale": {"paddingInner": 0, "paddingOuter": 0}, "axis": {"orient": "top", "title": null, "ticks": false, "domain": false, "labelAngle": 0, "labelFontSize": 25, "labelPadding": 9, "labelColor": "#000000"}},
     "y": {"field": "term", "type": "nominal", "sort": null, "scale": {"paddingInner": 0, "paddingOuter": 0}, "axis": {"orient": "right", "title": null, "ticks": false, "domain": false, "labelFontSize": 17, "labelPadding": 15, "labelLimit": 700, "labelColor": "#000000"}},
     "fill": {"field": "z", "type": "quantitative", "scale": {"domain": [-1.5, 0, 1.5], "range": ["#4575b4", "#ffffff", "#d73027"], "interpolate": "rgb"}, "legend": null}}}
  ]}
], "spacing": 39.4, "bounds": "full"}
]
}
